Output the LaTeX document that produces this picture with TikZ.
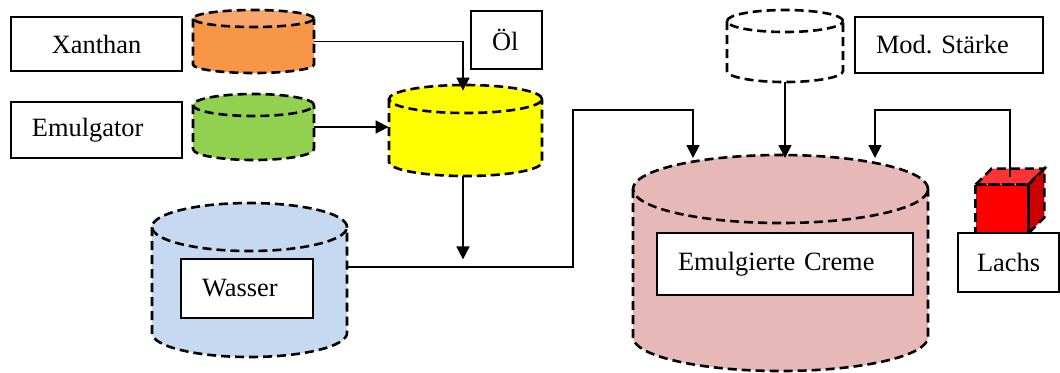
\documentclass[tikz,border=0pt]{standalone}
\usepackage{fontspec}
\setmainfont{Liberation Serif}
\usepackage{xcolor}
\usetikzlibrary{arrows.meta}
\frenchspacing

\definecolor{xanthancol}{HTML}{F79646}
\definecolor{xanthantop}{HTML}{F9A66C}
\definecolor{emulgcol}{HTML}{92D050}
\definecolor{oilcol}{HTML}{FFFF00}
\definecolor{watercol}{HTML}{C6D9F1}
\definecolor{creamcol}{HTML}{E6B9B8}
\definecolor{fishfront}{HTML}{FF0000}
\definecolor{fishtop}{HTML}{FF3333}
\definecolor{fishside}{HTML}{CC0000}

% cylinder: name, left, top, right, bottom, half height of the ends, body colour, top colour
\newcommand{\tank}[8]{%
  \fill[#7] (#2,{#3+#6}) rectangle (#4,{#5-#6});
  \fill[#7] ({(#2+#4)/2},{#5-#6}) ellipse [x radius={(#4-#2)/4*1pt}, y radius={#6*0.5pt}];
  \fill[#8] ({(#2+#4)/2},{#3+#6}) ellipse [x radius={(#4-#2)/4*1pt}, y radius={#6*0.5pt}];
  \draw[tankline] (#2,{#3+#6}) -- (#2,{#5-#6})
    arc [start angle=180, end angle=360, x radius={(#4-#2)/4*1pt}, y radius={#6*0.5pt}]
    -- (#4,{#3+#6});
  \draw[tankline] ({(#2+#4)/2},{#3+#6}) ellipse [x radius={(#4-#2)/4*1pt}, y radius={#6*0.5pt}];
  \node[inner sep=0pt, minimum width={(#4-#2)*0.5pt}, minimum height={(#5-#3)*0.5pt}]
    (#1) at ({(#2+#4)/2},{(#3+#5)/2}) {};
}

\begin{document}
\begin{tikzpicture}[
  x=0.5pt, y=-0.5pt,
  every node/.style={font=\fontsize{13.2}{15}\selectfont},
  tankline/.style={line width=1.3pt, dash pattern=on 4.5pt off 2.5pt},
  lbl/.style={draw=black, fill=white, line width=0.8pt, inner xsep=10.5pt, inner ysep=0pt, align=left},
  arrow/.style={-{Triangle[length=6.5pt,width=6.5pt]}, line width=0.85pt},
]

\useasboundingbox (0,0) rectangle (1060,372);

% tanks
\tank{xan}{193}{10}{314}{73}{8.5}{xanthancol}{xanthantop}
\tank{emu}{193}{94}{314}{160}{11}{emulgcol}{emulgcol}
\tank{oil}{389}{85}{542}{176}{14}{oilcol}{oilcol}
\tank{starch}{727}{10}{843}{82}{11}{white}{white}
\tank{wat}{152}{203}{347}{357}{24}{watercol}{watercol}
\tank{cream}{633}{155}{928}{371}{34}{creamcol}{creamcol}

% salmon cube
\node[inner sep=0pt, minimum width=26pt, minimum height=24pt, fill=fishfront] (fish) at (1002,209) {};
\filldraw[fill=fishtop, tankline] (fish.north west) -- ++(16,-16) -- ([shift={(16,-16)}]fish.north east) -- (fish.north east) -- cycle;
\filldraw[fill=fishside, tankline] (fish.north east) -- ([shift={(16,-16)}]fish.north east) -- ([shift={(16,-16)}]fish.south east) -- (fish.south east) -- cycle;
\draw[tankline] (fish.north west) rectangle (fish.south east);

% labels
\node[lbl, align=center, text width=64.5pt, minimum height=27pt] (xanl) at (96.5,44) {Xanthan};
\node[lbl, text width=64.5pt, minimum height=28pt] (emul) at (96.5,130) {Emulgator};
\node[lbl, text width=14.5pt, minimum height=29pt] (oill) at (506.5,40) {Öl};
\node[lbl, text width=73pt, minimum height=28pt] (starchl) at (949,45) {Mod. Stärke};
\node[lbl, text width=45pt, minimum height=29.5pt] (watl) at (247,288.5) {Wasser};
\node[lbl, text width=107pt, minimum height=31pt] (creaml) at (785,264) {Emulgierte Creme};
\node[lbl, inner xsep=9.5pt, text width=31.5pt, minimum height=29.5pt] (fishl) at (1008.5,262.5) {Lachs};

% connectors
\coordinate (mix) at ([shift={(-2.5,83)}]oil.south);
\coordinate (up) at (573,110);
\coordinate (tipA) at (693,158);
\coordinate (tipC) at (875,158);

\draw[arrow] (xan.east) -| ([shift={(-2.5,6)}]oil.north);
\draw[arrow] (emu.east) -- (emu.east -| oil.west);
\draw[arrow] ([xshift=-1.25pt]oil.south) -- (mix);
\draw[arrow] ([yshift=6.5pt]wat.east) -| (up) -| (tipA);
\draw[arrow] (starch.south) -- (starch.south |- tipA);
\draw[arrow] ([shift={(8,-8)}]fish.north) |- (up -| tipC) -- (tipC);

\end{tikzpicture}
\end{document}
